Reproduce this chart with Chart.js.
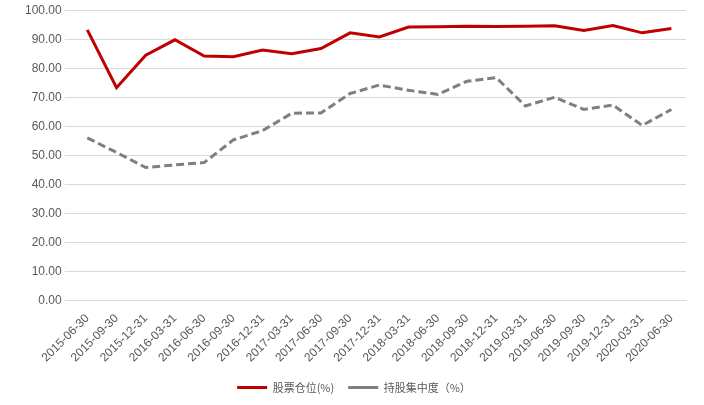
<!DOCTYPE html><html><head><script src="https://cdn.jsdelivr.net/npm/chart.js@4"></script>
<style>body{margin:0;background:#fff}#w{width:704px;height:405px}</style></head><body><div id="w"><canvas id="c"></canvas></div>
<script>
const categories=["2015-06-30","2015-09-30","2015-12-31","2016-03-31","2016-06-30","2016-09-30","2016-12-31","2017-03-31","2017-06-30","2017-09-30","2017-12-31","2018-03-31","2018-06-30","2018-09-30","2018-12-31","2019-03-31","2019-06-30","2019-09-30","2019-12-31","2020-03-31","2020-06-30"];
const stockPosition=[93.2,73.3,84.5,89.8,84.2,84.0,86.3,85.0,86.8,92.2,90.8,94.2,94.3,94.5,94.4,94.5,94.6,93.0,94.7,92.2,93.7];
const concentration=[56.0,51.0,45.8,46.7,47.5,55.3,58.5,64.5,64.6,71.3,74.2,72.4,71.0,75.5,76.8,67.0,70.0,65.8,67.3,60.3,65.8];
new Chart(document.getElementById('c'),{type:'line',data:{labels:categories,datasets:[
{label:'股票仓位(%)',data:stockPosition,borderColor:'#c00000',backgroundColor:'#c00000',borderWidth:3,pointRadius:0,tension:0},
{label:'持股集中度（%）',data:concentration,borderColor:'#7f7f7f',backgroundColor:'#7f7f7f',borderWidth:3,borderDash:[8,4],pointRadius:0,tension:0}]},
options:{responsive:true,maintainAspectRatio:false,animation:false,layout:{padding:{left:22,right:18,top:8,bottom:2}},
plugins:{legend:{position:'bottom',labels:{boxWidth:30,boxHeight:0,padding:14,font:{size:11,family:'Noto Sans CJK SC'},color:'#595959'}},tooltip:{enabled:false}},
scales:{x:{offset:true,grid:{display:false},ticks:{maxRotation:45,minRotation:45,font:{size:12},color:'#595959'},border:{color:'#d9d9d9'}},
y:{min:0,max:100,ticks:{stepSize:10,callback:v=>v.toFixed(2),font:{size:12},color:'#595959'},grid:{color:'#d9d9d9'},border:{display:false}}}}});
</script></body></html>
